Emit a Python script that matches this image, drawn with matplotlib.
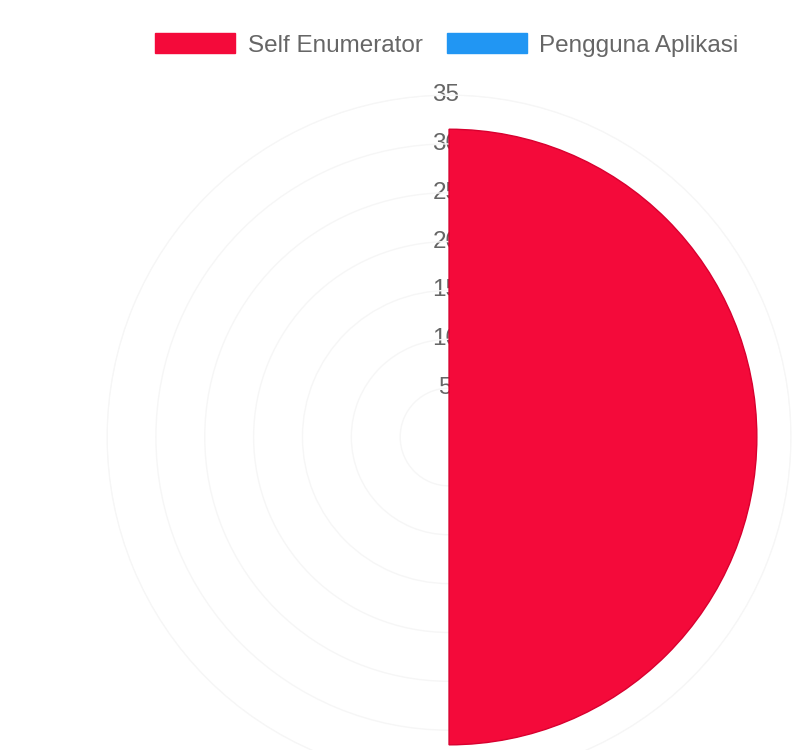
import numpy as np
import matplotlib.pyplot as plt
from matplotlib.patches import Patch

# Data
labels = ['Self Enumerator', 'Pengguna Aplikasi']
values = [31.5, 0]
colors = ['#f40a3a', '#2196f3']
r_ticks = [0, 5, 10, 15, 20, 25, 30, 35]

plt.rcParams['font.family'] = ['Liberation Sans', 'DejaVu Sans']

fig = plt.figure(figsize=(8.11, 7.5), dpi=100)
ax = fig.add_axes([0.132, -0.0387, 0.8434, 0.912], projection='polar')
ax.set_theta_zero_location('N')
ax.set_theta_direction(-1)

n = len(values)
width = 2 * np.pi / n
theta = np.arange(n) * width + width / 2
ax.bar(theta, values, width=width, color=colors, edgecolor='#d8002f',
       linewidth=1, zorder=3)

ax.set_ylim(0, 35)
ax.set_yticks(r_ticks)
ax.set_yticklabels([])
ax.set_xticks([])
ax.yaxis.grid(True, color='#f6f6f6', linewidth=1)
ax.xaxis.grid(False)
ax.spines['polar'].set_color('#f6f6f6')

# tick labels sit under the segment, like the original
for r in r_ticks[1:]:
    ax.annotate(str(r), xy=(0, r), xytext=(-2.2, 0), textcoords='offset points',
                ha='center', va='center', fontsize=17.5, color='#666666',
                zorder=1)

handles = [Patch(facecolor=c, edgecolor=c) for c in colors]
fig.legend(handles, labels, loc='center', bbox_to_anchor=(0.551, 0.94),
           ncol=2, frameon=False, fontsize=17.5, labelcolor='#666666',
           handlelength=3.3, handleheight=0.85, columnspacing=1.0,
           handletextpad=0.5)

fig.savefig('out.png', dpi=100, facecolor='white')
